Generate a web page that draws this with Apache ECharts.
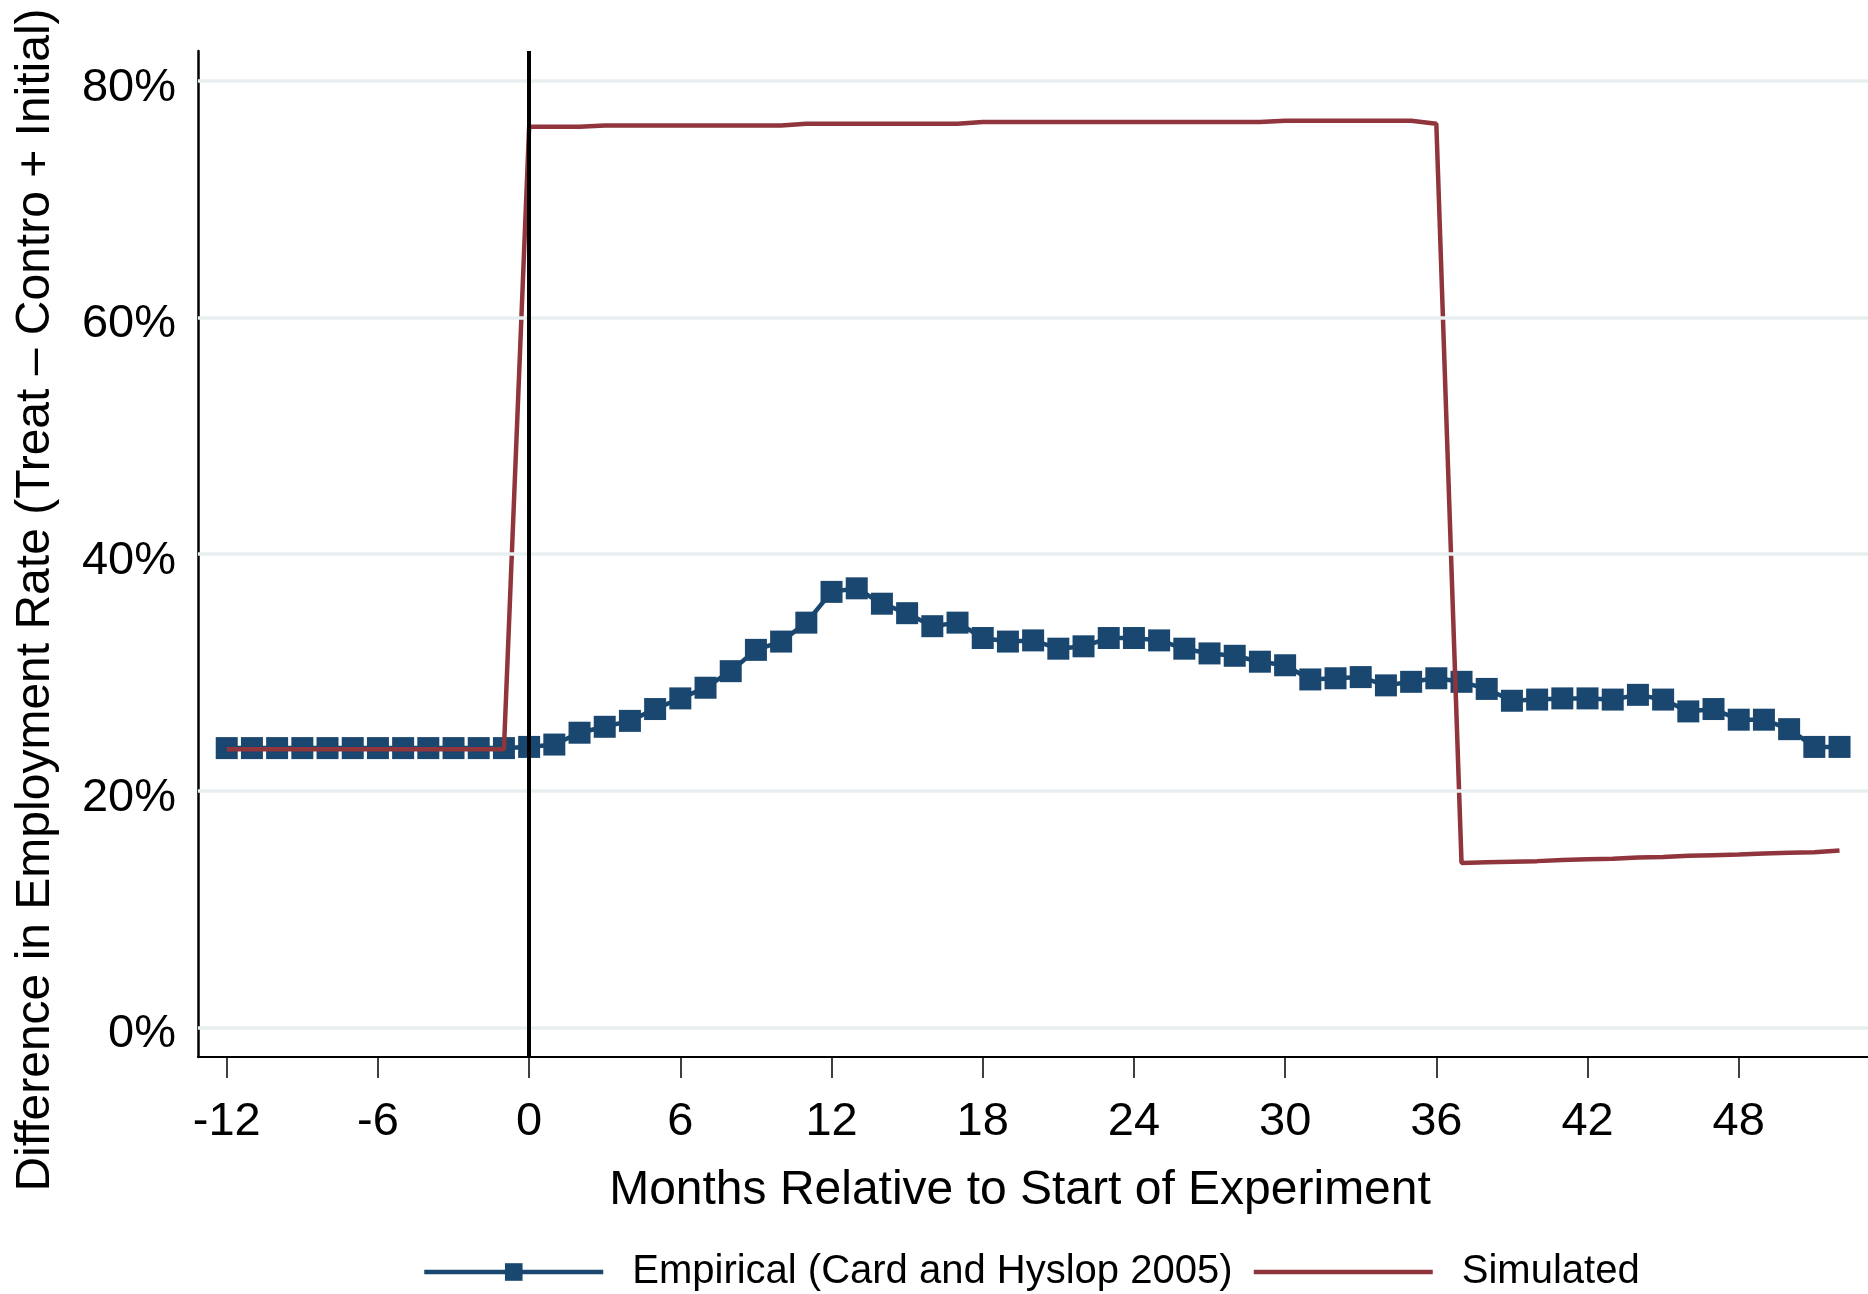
<!DOCTYPE html>
<html><head><meta charset="utf-8">
<script src="https://cdn.jsdelivr.net/npm/echarts@6/dist/echarts.min.js"></script>
<style>html,body{margin:0;padding:0;background:#fff}#c{width:1868px;height:1294px}</style>
</head><body><div id="c"></div>
<script>
const months = [-12,-11,-10,-9,-8,-7,-6,-5,-4,-3,-2,-1,0,1,2,3,4,5,6,7,8,9,10,11,12,13,14,15,16,17,18,19,20,21,22,23,24,25,26,27,28,29,30,31,32,33,34,35,36,37,38,39,40,41,42,43,44,45,46,47,48,49,50,51,52];
const empirical = [23.6,23.6,23.6,23.6,23.6,23.6,23.6,23.6,23.6,23.6,23.6,23.6,
  23.7,23.9,24.9,25.4,25.9,26.9,27.8,28.7,30.1,31.9,32.6,34.2,36.8,37.1,35.8,35.0,33.9,34.2,32.9,32.6,
  32.7,32.0,32.2,32.9,32.9,32.7,32.0,31.6,31.4,30.9,30.6,29.4,29.5,29.6,28.9,29.2,29.5,29.2,28.6,27.6,
  27.7,27.8,27.8,27.7,28.1,27.7,26.7,26.9,26.0,26.0,25.2,23.7,23.7];
const simulated = [23.5,23.5,23.5,23.5,23.5,23.5,23.5,23.5,23.5,23.5,23.5,23.5,
  76.1,76.1,76.1,76.2,76.2,76.2,76.2,76.2,76.2,76.2,76.2,76.35,76.35,76.35,76.35,76.35,76.35,76.35,
  76.5,76.5,76.5,76.5,76.5,76.5,76.5,76.5,76.5,76.5,76.5,76.5,76.6,76.6,76.6,76.6,76.6,76.6,76.35,
  13.9,13.95,14.0,14.05,14.15,14.2,14.25,14.35,14.4,14.5,14.55,14.6,14.7,14.75,14.8,14.95];
const xTicks = [-12,-6,0,6,12,18,24,30,36,42,48];
const yTicks = [0,20,40,60,80];
const seriesNames = ['Empirical (Card and Hyslop 2005)','Simulated'];
const xTitle = 'Months Relative to Start of Experiment';
const yTitle = 'Difference in Employment Rate (Treat \u2013 Contro + Initial)';
const startMonth = 0;

const FONT = '"Liberation Sans", Arial, Helvetica, sans-serif';
const chart = echarts.init(document.getElementById('c'), null, {renderer:'canvas'});
chart.setOption({
  animation: false,
  backgroundColor: '#fff',
  grid: {left:198, right:0, top:51, bottom:237, containLabel:false, outerBoundsMode:'none'},
  xAxis: {
    type:'value', min:-13.14, max:53.13,
    axisLine:{show:true, onZero:false, lineStyle:{color:'#000', width:2}},
    axisTick:{show:true, customValues:xTicks, length:21, lineStyle:{color:'#000', width:1.5}},
    axisLabel:{customValues:xTicks, margin:42, fontSize:47, color:'#000', fontFamily:FONT},
    splitLine:{show:false},
    name:xTitle, nameLocation:'middle', nameGap:110,
    nameTextStyle:{fontSize:48, color:'#000', fontFamily:FONT, padding:[0,26,0,0]}
  },
  yAxis: {
    type:'value', min:-2.5, max:82.5,
    axisLine:{show:true, onZero:false, lineStyle:{color:'#000', width:2.5}},
    axisTick:{show:true, inside:true, customValues:yTicks, length:19, lineStyle:{color:'#000', width:2}},
    axisLabel:{customValues:yTicks, margin:22, fontSize:47, color:'#000', fontFamily:FONT,
      formatter: v => '{p|' + v + '%}',
      rich:{p:{fontSize:47, color:'#000', fontFamily:FONT, padding:[14,0,0,0]}}},
    splitLine:{show:false}
  },
  legend: {
    left:417, top:1247, itemWidth:179, itemHeight:22, itemGap:19,
    data: [
      {name: seriesNames[0]},
      {name: seriesNames[1], itemStyle:{opacity:0, color:'rgba(0,0,0,0)', borderWidth:0}}
    ],
    lineStyle:{width:4.5},
    textStyle:{fontSize:40, color:'#000', fontFamily:FONT, padding:[0,0,0,24]}
  },
  graphic: [{
    type:'text', x:36, y:600, rotation:Math.PI/2,
    style:{text:yTitle, fontSize:48, fill:'#000', fontFamily:FONT, align:'center', verticalAlign:'middle'}
  }],
  series: [
    {
      type:'line', data:[], silent:true, z:1,
      markLine:{silent:true, symbol:['none','none'], label:{show:false},
        lineStyle:{color:'#e8eff1', width:3.5, type:'solid'},
        data: yTicks.map(v => ({yAxis:v}))}
    },
    {
      type:'line', data:[], silent:true, z:2,
      markLine:{silent:true, symbol:['none','none'], label:{show:false},
        lineStyle:{color:'#000', width:4, type:'solid'},
        data: [{xAxis:startMonth}]}
    },
    {
      name:seriesNames[0], type:'line', z:3,
      data: months.map((m,i) => [m, empirical[i]]),
      symbol:'rect', symbolSize:22, showSymbol:true,
      itemStyle:{color:'#1a476f'},
      lineStyle:{color:'#1a476f', width:4.5}
    },
    {
      name:seriesNames[1], type:'line', z:4,
      data: months.map((m,i) => [m, simulated[i]]),
      symbol:'none',
      itemStyle:{color:'#90353b'},
      lineStyle:{color:'#90353b', width:4.5}
    }
  ]
});
</script></body></html>
